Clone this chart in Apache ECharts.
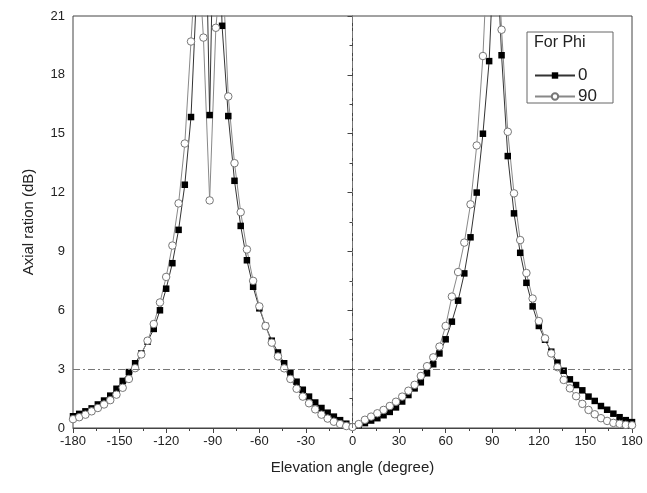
<!DOCTYPE html>
<html>
<head>
<meta charset="utf-8">
<script src="https://cdn.jsdelivr.net/npm/echarts@6/dist/echarts.min.js"></script>
<style>
  html, body { margin: 0; padding: 0; background: #fff; }
  #chart { width: 647px; height: 493px; }
</style>
</head>
<body>
<div id="chart"></div>
<script>
// elevation angles, 4 degree steps from -180 to 180
var angleStart = -180, angleStep = 4, angleCount = 91;
var angles = [];
for (var k = 0; k < angleCount; k++) angles.push(angleStart + k * angleStep);

// axial ratio (dB), Phi = 0
var phi0 = [
  0.6, 0.72, 0.85, 1.0, 1.2, 1.4, 1.65, 2.0, 2.4, 2.85,
  3.3, 3.8, 4.4, 5.05, 6.0, 7.1, 8.4, 10.1, 12.4, 15.85,
  23, 32, 15.95, 32, 20.5, 15.9, 12.6, 10.3, 8.55, 7.2,
  6.1, 5.2, 4.45, 3.85, 3.3, 2.82, 2.36, 1.95, 1.6, 1.3,
  1.02, 0.78, 0.58, 0.4, 0.22,
  0.08,
  0.15, 0.25, 0.38, 0.5, 0.65, 0.82, 1.05, 1.35, 1.68, 2.02,
  2.33, 2.79, 3.25, 3.8, 4.52, 5.42, 6.49, 7.88, 9.72, 12.0,
  15.0, 18.7, 26, 19.0, 13.86, 10.94, 8.93, 7.4, 6.2, 5.2,
  4.5, 3.89, 3.33, 2.92, 2.48, 2.19, 1.92, 1.6, 1.38, 1.12,
  0.93, 0.73, 0.55, 0.4, 0.3
];

// axial ratio (dB), Phi = 90
var phi90 = [
  0.45, 0.55, 0.68, 0.85, 1.02, 1.2, 1.42, 1.7, 2.05, 2.5,
  3.05, 3.75, 4.45, 5.3, 6.4, 7.7, 9.3, 11.45, 14.5, 19.7,
  25, 19.9, 11.6, 20.4, 24, 16.9, 13.5, 11.0, 9.1, 7.5,
  6.2, 5.2, 4.35, 3.65, 3.04, 2.5, 2.0, 1.6, 1.26, 0.95,
  0.68, 0.48, 0.32, 0.2, 0.1,
  0.05,
  0.2, 0.42, 0.58, 0.75, 0.92, 1.12, 1.34, 1.6, 1.9, 2.2,
  2.65, 3.15, 3.6, 4.15, 5.2, 6.7, 7.95, 9.45, 11.4, 14.4,
  18.96, 26, 27, 20.3, 15.1, 11.96, 9.58, 7.9, 6.6, 5.45,
  4.57, 3.8, 3.1, 2.45, 2.02, 1.62, 1.23, 0.92, 0.7, 0.5,
  0.36, 0.26, 0.21, 0.16, 0.14
];

var seriesNames = ['0', '90'];
var xTicks = { min: -180, max: 180, interval: 30 };
var yTicks = { min: 0, max: 21, interval: 3 };
var refLevel = 3;   // 3 dB reference line
var refAngle = 0;

function pairs(ys) {
  return angles.map(function (a, i) { return [a, ys[i]]; });
}

var fontFam = '"Liberation Sans", Arial, sans-serif';
var myChart = echarts.init(document.getElementById('chart'));
var option = {
  animation: false,
  backgroundColor: '#fff',
  grid: {
    left: 73, right: 15, top: 16, bottom: 65,
    show: true, borderColor: '#444', borderWidth: 1
  },
  legend: {
    data: seriesNames,
    orient: 'vertical',
    left: 529, top: 62,
    itemWidth: 40, itemHeight: 8, itemGap: 4,
    textStyle: { fontFamily: fontFam, fontSize: 17, color: '#222', padding: [0, 0, 0, -2] }
  },
  graphic: [
    {
      type: 'rect',
      shape: { x: 527, y: 32, width: 86, height: 71 },
      style: { fill: 'transparent', stroke: '#666', lineWidth: 1 }
    },
    {
      type: 'text',
      left: 534, top: 35,
      style: { text: 'For Phi', font: '16px ' + fontFam, fill: '#222' }
    }
  ],
  xAxis: {
    type: 'value',
    min: xTicks.min, max: xTicks.max, interval: xTicks.interval,
    name: 'Elevation angle (degree)',
    nameLocation: 'middle', nameGap: 32,
    nameTextStyle: { fontFamily: fontFam, fontSize: 15, color: '#222' },
    axisLine: { show: true, lineStyle: { color: '#444' } },
    axisTick: { show: true, inside: false, length: 5, lineStyle: { color: '#444' } },
    minorTick: { show: true, splitNumber: 2, length: 3, lineStyle: { color: '#444' } },
    axisLabel: { margin: 7, fontFamily: fontFam, fontSize: 13, color: '#222' },
    splitLine: { show: false }
  },
  yAxis: {
    type: 'value',
    min: yTicks.min, max: yTicks.max, interval: yTicks.interval,
    name: 'Axial ration (dB)',
    nameLocation: 'middle', nameGap: 37,
    nameTextStyle: { fontFamily: fontFam, fontSize: 15, color: '#222' },
    axisLine: { show: true, lineStyle: { color: '#444' } },
    axisTick: { show: true, inside: false, length: 5, lineStyle: { color: '#444' } },
    minorTick: { show: true, splitNumber: 2, length: 3, lineStyle: { color: '#444' } },
    axisLabel: { margin: 8, fontFamily: fontFam, fontSize: 13, color: '#222' },
    splitLine: { show: false }
  },
  series: [
    {
      name: seriesNames[0],
      type: 'line',
      data: pairs(phi0),
      clip: true,
      showAllSymbol: true,
      symbol: 'rect',
      symbolSize: 6.5,
      lineStyle: { color: '#333', width: 1 },
      itemStyle: { color: '#000', borderColor: '#000', borderWidth: 0 },
      markLine: {
        silent: true,
        symbol: 'none',
        label: { show: false },
        lineStyle: { color: '#777', width: 1, type: [7, 3, 2, 3] },
        data: [{ yAxis: refLevel }, { xAxis: refAngle }]
      }
    },
    {
      name: seriesNames[1],
      type: 'line',
      data: pairs(phi90),
      clip: true,
      showAllSymbol: true,
      symbol: 'circle',
      symbolSize: 7.5,
      lineStyle: { color: '#888', width: 1 },
      itemStyle: { color: '#fff', borderColor: '#777', borderWidth: 1 }
    }
  ]
};
myChart.setOption(option);
</script>
</body>
</html>
